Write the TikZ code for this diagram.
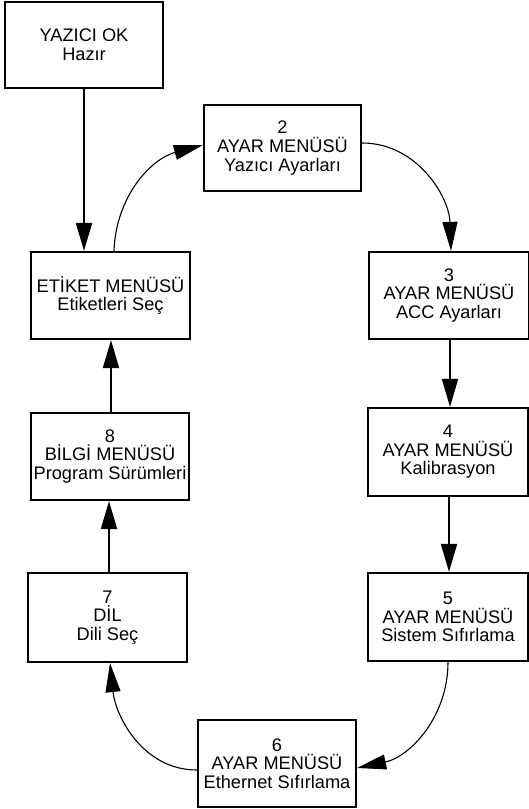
\documentclass[tikz,border=0pt]{standalone}
\usepackage{fontspec}
\setmainfont{Liberation Sans}
\usetikzlibrary{arrows.meta}

\begin{document}
\begin{tikzpicture}[x=1pt, y=1pt,
        menubox/.style={draw, line width=2.2pt, inner sep=0pt, align=center,
                font=\fontsize{18.2}{18.6}\selectfont},
        straightarrow/.style={line width=2pt, -{Triangle[length=28pt,width=16pt]}},
        curvedarrow/.style={line width=1.1pt, -{Triangle[length=29pt,width=15pt]}}]
        \useasboundingbox (0,0) rectangle (529,809);
        \node[menubox, minimum width=158, minimum height=86] (ok) at (84,764) {YAZICI OK\\Hazır};
        \node[menubox, minimum width=157, minimum height=86] (ayartwo) at (282.5,661) {2\\AYAR MENÜSÜ\\Yazıcı Ayarları};
        \node[menubox, minimum width=159, minimum height=87] (etiket) at (110.5,513.5) {ETİKET MENÜSÜ\\Etiketleri Seç};
        \node[menubox, minimum width=160, minimum height=87] (ayarthree) at (449,513.5) {3\\AYAR MENÜSÜ\\ACC Ayarları};
        \node[menubox, minimum width=158, minimum height=87] (bilgi) at (110,352.5) {8\\BİLGİ MENÜSÜ\\Program Sürümleri};
        \node[menubox, minimum width=160, minimum height=88] (ayarfour) at (448,357) {4\\AYAR MENÜSÜ\\Kalibrasyon};
        \node[menubox, minimum width=159, minimum height=89] (dil) at (107.5,191.5) {7\\DİL\\Dili Seç};
        \node[menubox, minimum width=160, minimum height=88] (ayarfive) at (448,192) {5\\AYAR MENÜSÜ\\Sistem Sıfırlama};
        \node[menubox, minimum width=158, minimum height=87] (ayarsix) at (277,45.5) {6\\AYAR MENÜSÜ\\Ethernet Sıfırlama};
        \draw[straightarrow] (ok.south) -- (ok.south |- etiket.north);
        \draw[curvedarrow] ([xshift=3.5pt]etiket.north) to[out=88, in=195] ([yshift=3pt]ayartwo.west);
        \draw[curvedarrow] ([yshift=5pt]ayartwo.east) to[out=0, in=92] ([xshift=2pt]ayarthree.north);
        \draw[straightarrow] ([xshift=1pt]ayarthree.south) -- ([xshift=1pt]ayarthree.south |- ayarfour.north);
        \draw[straightarrow] ([xshift=1pt]ayarfour.south) -- ([xshift=1pt]ayarfour.south |- ayarfive.north);
        \draw[curvedarrow] (ayarfive.south) to[out=-90, in=12] ([yshift=-4.5pt]ayarsix.east);
        \draw[curvedarrow] ([yshift=-6.5pt]ayarsix.west) to[out=180, in=-84] ([xshift=2.5pt]dil.south);
        \draw[straightarrow] ([xshift=1.5pt]dil.north) -- ([xshift=1.5pt]dil.north |- bilgi.south);
        \draw[straightarrow] ([xshift=1pt]bilgi.north) -- ([xshift=1pt]bilgi.north |- etiket.south);
\end{tikzpicture}
\end{document}
